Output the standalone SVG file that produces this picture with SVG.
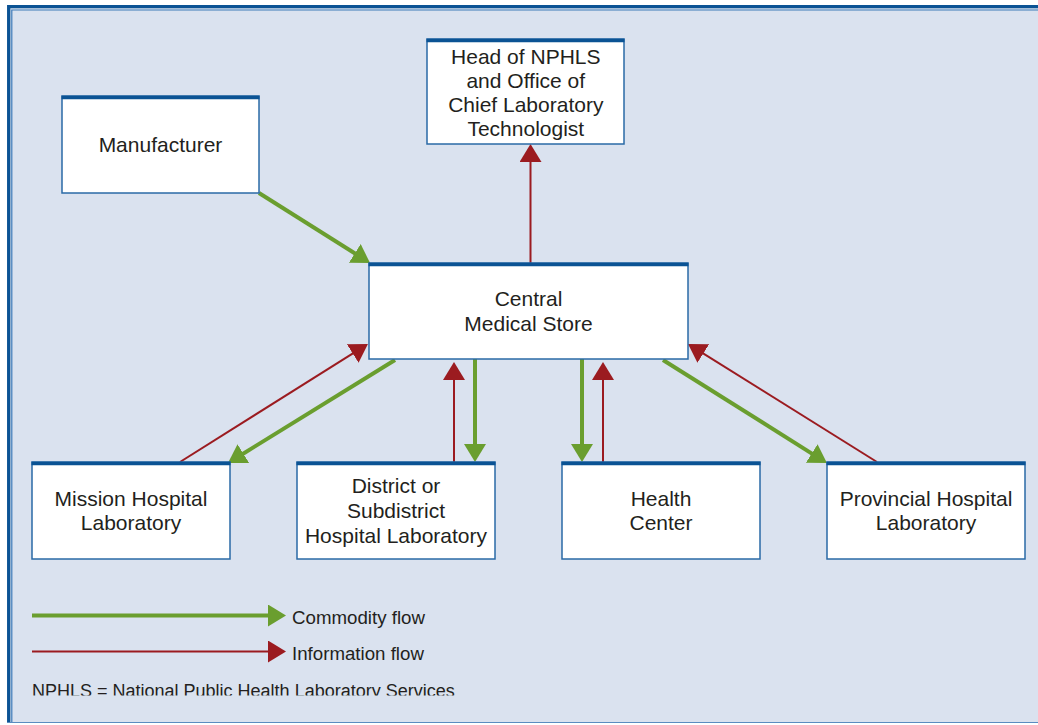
<svg xmlns="http://www.w3.org/2000/svg" width="1038" height="725" viewBox="0 0 1038 725">
<defs>
<style>
.box{fill:#ffffff;stroke:#2a6aa6;stroke-width:1.5}
.bar{stroke:#0b5394;stroke-width:3.5}
.t{font-family:"Liberation Sans",Arial,sans-serif;font-size:21px;fill:#231f20;text-anchor:middle}
.lt{font-family:"Liberation Sans",Arial,sans-serif;font-size:18.7px;fill:#231f20}
.ft{font-family:"Liberation Sans",Arial,sans-serif;font-size:18px;fill:#231f20}
.g{stroke:#6a9e2f;stroke-width:4;fill:none;marker-end:url(#ag)}
.r{stroke:#9b1b20;stroke-width:2;fill:none;marker-end:url(#ar)}
</style>
<marker id="ag" markerUnits="userSpaceOnUse" markerWidth="18" markerHeight="22" refX="4" refY="11" orient="auto" viewBox="0 0 18 22"><path d="M0,0 L18,11 L0,22 z" fill="#6a9e2f"/></marker>
<marker id="ar" markerUnits="userSpaceOnUse" markerWidth="18" markerHeight="22" refX="4" refY="11" orient="auto" viewBox="0 0 18 22"><path d="M0,0 L18,11 L0,22 z" fill="#9b1b20"/></marker>
<clipPath id="clipfoot"><rect x="0" y="660" width="1038" height="35.5"/></clipPath>
</defs>
<g id="frame">
<rect x="7" y="5" width="1040" height="718" fill="#dae2ef"/>
<path d="M8.7,723 V6.7 H1040" fill="none" stroke="#0b5394" stroke-width="3.3"/>
<path d="M11.8,723 V10 H1040" fill="none" stroke="#3d7ab8" stroke-width="1.2"/>
<line x1="7" y1="722.5" x2="1040" y2="722.5" stroke="#5a8cc0" stroke-width="1.2"/>
</g>
<g id="connectors">
<line class="g" x1="259" y1="193" x2="358.2" y2="255.5"/>
<line class="r" x1="530.5" y1="263" x2="530.5" y2="158"/>
<line class="r" x1="180" y1="462" x2="356.1" y2="351.4"/>
<line class="g" x1="395" y1="360" x2="239.9" y2="455.7"/>
<line class="r" x1="454" y1="462" x2="454" y2="376"/>
<line class="g" x1="475" y1="359" x2="475" y2="448"/>
<line class="g" x1="582" y1="359" x2="582" y2="448"/>
<line class="r" x1="603" y1="462" x2="603" y2="376"/>
<line class="g" x1="663" y1="360" x2="815.1" y2="455.6"/>
<line class="r" x1="877" y1="462" x2="699.9" y2="351.4"/>
</g>
<g id="manufacturer">
<rect class="box" x="62" y="96" width="197" height="97"/>
<line class="bar" x1="61.5" y1="97.5" x2="259.5" y2="97.5"/>
<text class="t" x="160.5" y="152">Manufacturer</text>
</g>
<g id="head-nphls">
<rect class="box" x="427" y="39" width="197" height="105"/>
<line class="bar" x1="426.5" y1="40.5" x2="624.5" y2="40.5"/>
<text class="t" x="525.8" y="64">Head of NPHLS</text>
<text class="t" x="525.8" y="88">and Office of</text>
<text class="t" x="525.8" y="112">Chief Laboratory</text>
<text class="t" x="525.8" y="136">Technologist</text>
</g>
<g id="central-medical-store">
<rect class="box" x="369" y="263" width="319" height="96"/>
<line class="bar" x1="368.5" y1="264.5" x2="688.5" y2="264.5"/>
<text class="t" x="528.5" y="306">Central</text>
<text class="t" x="528.5" y="331">Medical Store</text>
</g>
<g id="mission-hospital">
<rect class="box" x="32" y="462" width="198" height="97"/>
<line class="bar" x1="31.5" y1="463.5" x2="230.5" y2="463.5"/>
<text class="t" x="131" y="506">Mission Hospital</text>
<text class="t" x="131" y="530">Laboratory</text>
</g>
<g id="district-hospital">
<rect class="box" x="297" y="462" width="198" height="97"/>
<line class="bar" x1="296.5" y1="463.5" x2="495.5" y2="463.5"/>
<text class="t" x="396" y="493">District or</text>
<text class="t" x="396" y="518">Subdistrict</text>
<text class="t" x="396" y="543">Hospital Laboratory</text>
</g>
<g id="health-center">
<rect class="box" x="562" y="462" width="198" height="97"/>
<line class="bar" x1="561.5" y1="463.5" x2="760.5" y2="463.5"/>
<text class="t" x="661" y="506">Health</text>
<text class="t" x="661" y="530">Center</text>
</g>
<g id="provincial-hospital">
<rect class="box" x="827" y="462" width="198" height="97"/>
<line class="bar" x1="826.5" y1="463.5" x2="1025.5" y2="463.5"/>
<text class="t" x="926" y="506">Provincial Hospital</text>
<text class="t" x="926" y="530">Laboratory</text>
</g>
<g id="legend">
<line class="g" x1="32" y1="615.5" x2="272" y2="615.5"/>
<line class="r" x1="32" y1="651.5" x2="272" y2="651.5"/>
<text class="lt" x="292" y="624">Commodity flow</text>
<text class="lt" x="292" y="660">Information flow</text>
<text class="ft" x="32" y="697" clip-path="url(#clipfoot)">NPHLS = National Public Health Laboratory Services</text>
</g>
</svg>
